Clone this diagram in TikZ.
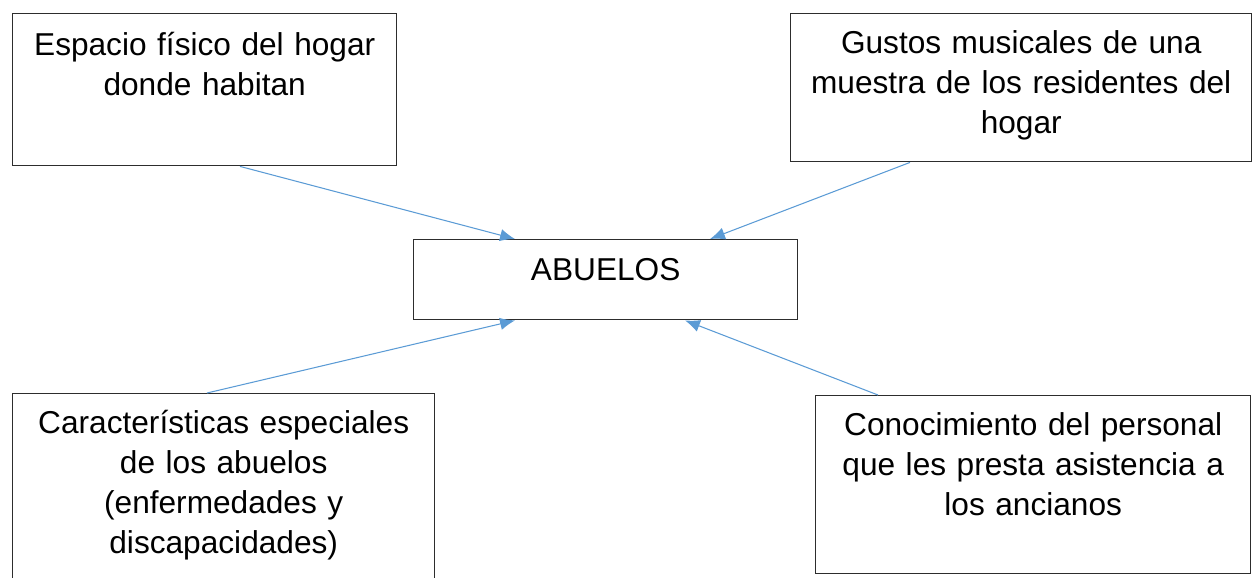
\documentclass[tikz,border=0pt]{standalone}
\usepackage{fontspec}
\setmainfont{Liberation Sans}
\usetikzlibrary{arrows.meta}
\definecolor{azulflecha}{RGB}{91,155,213}
\definecolor{borde}{RGB}{45,45,45}

\tikzset{
caja/.style={draw=borde, line width=0.8pt, inner sep=0pt, align=center,
  anchor=north west, font=\fontsize{18}{22.76}\selectfont},
flecha/.style={draw=azulflecha, line width=0.6pt, -{Latex[length=8.5pt,width=7pt]}}
}

\begin{document}
\begin{tikzpicture}
\useasboundingbox (0,0) rectangle (25.04,-11.54);
\clip (0,0) rectangle (25.04,-11.54);

\node[caja, text width=7.68cm, text height=0.84cm, text depth=2.2cm] (espacio) at (0.24,-0.26)
{Espacio físico del hogar\\donde habitan};

\node[caja, text width=9.22cm, text height=0.8cm, text depth=2.16cm] (gustos) at (15.8,-0.26)
{Gustos musicales de una\\muestra de los residentes del\\hogar};

\node[caja, text width=7.68cm, text height=0.82cm, text depth=0.78cm] (abuelos) at (8.26,-4.78)
{ABUELOS};

\node[caja, text width=8.44cm, text height=0.8cm, text depth=3.34cm] (caract) at (0.24,-7.86)
{Características especiales\\de los abuelos\\(enfermedades y\\discapacidades)};

\node[caja, text width=8.7cm, text height=0.8cm, text depth=2.76cm] (conoc) at (16.3,-7.9)
{Conocimiento del personal\\que les presta asistencia a\\los ancianos};


\draw[flecha] ([xshift=4.56cm]espacio.south west) -- ([xshift=2.04cm]abuelos.north west);

\draw[flecha] ([xshift=2.4cm]gustos.south west) -- ([xshift=5.94cm]abuelos.north west);

\draw[flecha] ([xshift=3.9cm]caract.north west) -- ([xshift=2.04cm]abuelos.south west);

\draw[flecha] ([xshift=1.26cm]conoc.north west) -- ([xshift=5.44cm]abuelos.south west);
\end{tikzpicture}
\end{document}
